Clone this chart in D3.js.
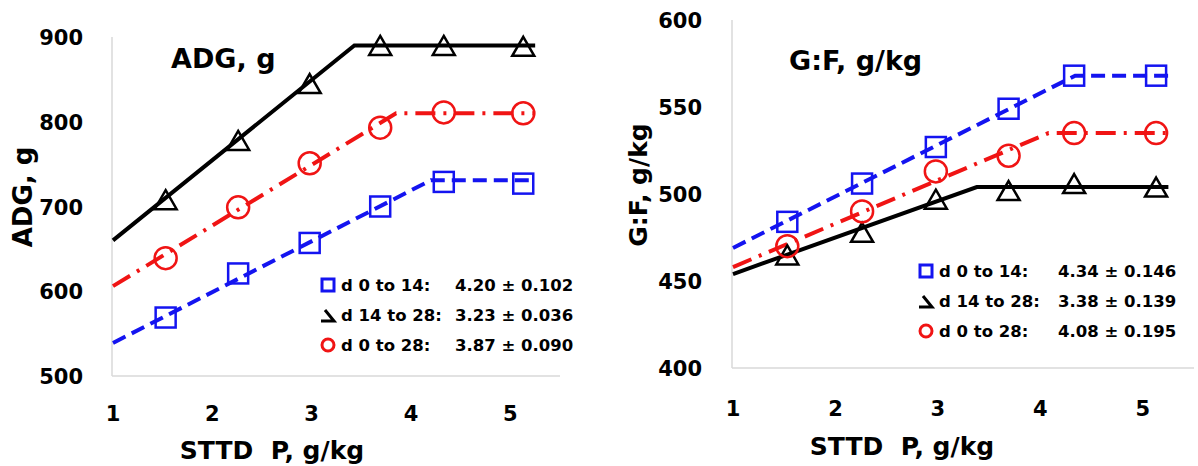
<!DOCTYPE html>
<html>
<head>
<meta charset="utf-8">
<script src="https://cdn.jsdelivr.net/npm/d3@7"></script>
<style>
  body { margin: 0; background: #fff; }
  svg { display: block; }
  text { font-family: "DejaVu Sans", sans-serif; font-weight: bold; fill: #000; }
</style>
</head>
<body>
<svg id="chart" width="1198" height="466"></svg>
<script>
// STTD P levels (g/kg) of the six diets
const sttdP = [1.53, 2.26, 2.98, 3.69, 4.33, 5.13];

// ADG, g
const adgD0to14 = [569, 621, 657, 700, 729, 727];
const adgD14to28 = [708, 778, 845, 890, 890, 889];
const adgD0to28 = [639, 699, 751, 793, 811, 810];
// broken-line fits: x = start, breakpoint, end
const adgFitX0to14 = [1, 4.2, 5.25],  adgFitY0to14 = [539, 731, 731];
const adgFitX14to28 = [1, 3.43, 5.25], adgFitY14to28 = [660, 890, 890];
const adgFitX0to28 = [1, 3.85, 5.25], adgFitY0to28 = [606, 810, 810];
const adgLegend = ["4.20 \u00b1 0.102", "3.23 \u00b1 0.036", "3.87 \u00b1 0.090"];

// G:F, g/kg
const gfD0to14 = [484, 506, 527, 549, 568, 568];
const gfD14to28 = [465, 478, 497, 502, 506, 504];
const gfD0to28 = [470, 490, 513, 522, 535, 535];
const gfFitX0to14 = [1, 4.34, 5.25],  gfFitY0to14 = [469, 568, 568];
const gfFitX14to28 = [1, 3.38, 5.25], gfFitY14to28 = [454, 504, 504];
const gfFitX0to28 = [1, 4.08, 5.25], gfFitY0to28 = [458, 535, 535];
const gfLegend = ["4.34 \u00b1 0.146", "3.38 \u00b1 0.139", "4.08 \u00b1 0.195"];

const periodLabels = ["d 0 to 14:", "d 14 to 28:", "d 0 to 28:"];
const xTicks = [1, 2, 3, 4, 5];

const BLUE = "#1414f0", RED = "#f01414", BLACK = "#000";

const svg = d3.select("#chart");

function drawPanel(p) {
  const x = d3.scaleLinear().domain([1, 5.5]).range(p.xRange);
  const y = d3.scaleLinear().domain(p.yDomain).range(p.yRange);
  const g = svg.append("g");

  // axis lines (light grey, no tick marks)
  g.append("line")
    .attr("x1", x(1) - 1).attr("x2", x(1) - 1)
    .attr("y1", y(p.yDomain[1])).attr("y2", y(p.yDomain[0]))
    .attr("stroke", "#d9d9d9").attr("stroke-width", 1.5);
  g.append("line")
    .attr("x1", x(1) - 1).attr("x2", x(5.5))
    .attr("y1", y(p.yDomain[0])).attr("y2", y(p.yDomain[0]))
    .attr("stroke", "#d9d9d9").attr("stroke-width", 1.5);

  g.selectAll(".ytick").data(p.yTicks).enter().append("text")
    .attr("x", p.yTickX).attr("y", d => y(d) + 8)
    .attr("text-anchor", "end").style("font-size", "21px")
    .text(d => d);
  g.selectAll(".xtick").data(xTicks).enter().append("text")
    .attr("x", d => x(d)).attr("y", p.xTickY)
    .attr("text-anchor", "middle").style("font-size", "21px")
    .text(d => d);

  g.append("text").attr("x", p.xTitleX).attr("y", p.xTitleY)
    .attr("text-anchor", "middle").style("font-size", "25px")
    .attr("xml:space", "preserve")
    .text("STTD  P, g/kg");
  g.append("text")
    .attr("transform", `translate(${p.yTitleX},${p.yTitleY}) rotate(-90)`)
    .attr("text-anchor", "middle").style("font-size", p.yTitleSize + "px")
    .text(p.title);
  g.append("text").attr("x", p.titleX).attr("y", p.titleY)
    .style("font-size", "27px").text(p.title);

  const line = d3.line().x(d => x(d[0])).y(d => y(d[1]));
  const fits = [
    {xs: p.fits[2][0], ys: p.fits[2][1], color: RED, dash: "20,8,3,8"},
    {xs: p.fits[0][0], ys: p.fits[0][1], color: BLUE, dash: "14,7"},
    {xs: p.fits[1][0], ys: p.fits[1][1], color: BLACK, dash: null}
  ];
  fits.forEach(f => {
    g.append("path")
      .attr("d", line(d3.zip(f.xs, f.ys)))
      .attr("fill", "none").attr("stroke", f.color)
      .attr("stroke-width", 4).attr("stroke-dasharray", f.dash);
  });

  // markers
  const pts = k => d3.zip(sttdP, p.series[k]);
  g.selectAll(".sq").data(pts(0)).enter().append("rect")
    .attr("x", d => x(d[0]) - 10).attr("y", d => y(d[1]) - 10)
    .attr("width", 20).attr("height", 20)
    .attr("fill", "none").attr("stroke", BLUE).attr("stroke-width", 2.5);
  g.selectAll(".tri").data(pts(1)).enter().append("path")
    .attr("d", d => {
      const cx = x(d[0]), cy = y(d[1]);
      return `M${cx},${cy - 9.5}L${cx + 11},${cy + 9.5}L${cx - 11},${cy + 9.5}Z`;
    })
    .attr("fill", "none").attr("stroke", BLACK).attr("stroke-width", 2.5);
  g.selectAll(".ci").data(pts(2)).enter().append("circle")
    .attr("cx", d => x(d[0])).attr("cy", d => y(d[1])).attr("r", 11)
    .attr("fill", "none").attr("stroke", RED).attr("stroke-width", 2.5);

  // legend
  p.legendY.forEach((ly, i) => {
    const mx = p.legendX;
    if (i === 0) {
      g.append("rect").attr("x", mx - 6).attr("y", ly - 6).attr("width", 12).attr("height", 12)
        .attr("fill", "none").attr("stroke", BLUE).attr("stroke-width", 3);
    } else if (i === 1) {
      g.append("path").attr("d", `M${mx - 3},${ly - 5}L${mx + 6},${ly + 6}L${mx - 7},${ly + 6}`)
        .attr("fill", "none").attr("stroke", BLACK).attr("stroke-width", 3);
    } else {
      g.append("circle").attr("cx", mx).attr("cy", ly).attr("r", 6)
        .attr("fill", "none").attr("stroke", RED).attr("stroke-width", 3);
    }
    g.append("text").attr("x", mx + 13).attr("y", ly + 6)
      .style("font-size", "16.5px").text(periodLabels[i]);
    g.append("text").attr("x", p.valueX).attr("y", ly + 6)
      .style("font-size", "16.5px").text(p.legend[i]);
  });
}

drawPanel({
  xRange: [113, 560], yDomain: [500, 900], yRange: [376, 37],
  yTicks: [500, 600, 700, 800, 900], yTickX: 83, xTickY: 421,
  xTitleX: 272, xTitleY: 459,
  title: "ADG, g", titleX: 171, titleY: 68,
  yTitleX: 32, yTitleY: 197, yTitleSize: 26,
  series: [adgD0to14, adgD14to28, adgD0to28],
  fits: [[adgFitX0to14, adgFitY0to14], [adgFitX14to28, adgFitY14to28], [adgFitX0to28, adgFitY0to28]],
  legend: adgLegend, legendX: 328, valueX: 455, legendY: [285, 315, 345]
});

drawPanel({
  xRange: [733, 1194], yDomain: [400, 600], yRange: [368, 20],
  yTicks: [400, 450, 500, 550, 600], yTickX: 702, xTickY: 416,
  xTitleX: 902, xTitleY: 455,
  title: "G:F, g/kg", titleX: 789, titleY: 70,
  yTitleX: 647, yTitleY: 185, yTitleSize: 25,
  series: [gfD0to14, gfD14to28, gfD0to28],
  fits: [[gfFitX0to14, gfFitY0to14], [gfFitX14to28, gfFitY14to28], [gfFitX0to28, gfFitY0to28]],
  legend: gfLegend, legendX: 926, valueX: 1058, legendY: [271, 301, 331]
});
</script>
</body>
</html>
